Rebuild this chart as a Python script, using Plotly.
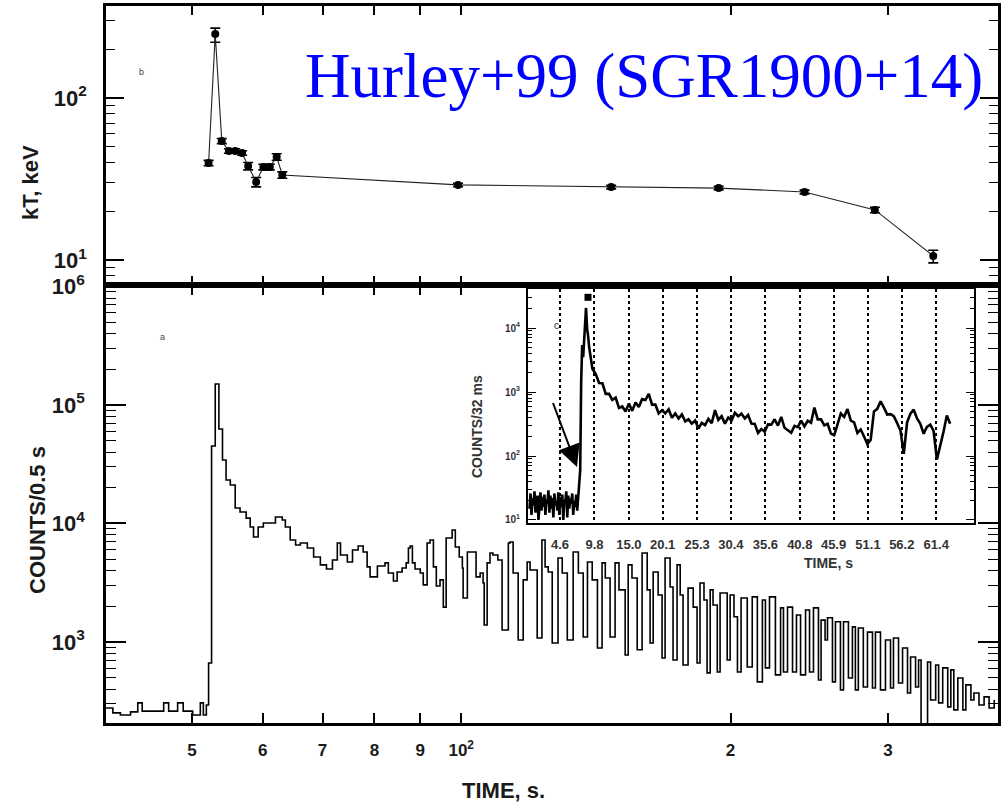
import plotly.graph_objects as go

# ---------------- data ----------------
# top panel: blackbody temperature kT (keV) vs time (s)
kt_time = [52.2, 53.1, 54.0, 55.0, 55.9, 56.9, 57.8, 59.0, 60.1, 61.1, 62.2, 63.1,
           99.2, 147.1, 194.0, 242.0, 290.0, 337.0]
kt_value = [39.7, 248.0, 54.3, 47.1, 47.1, 45.8, 38.0, 30.3, 37.5, 37.5, 43.3, 33.5,
            29.1, 28.2, 27.8, 26.3, 20.4, 10.6]
kt_err_plus = [1.5, 22.0, 2.0, 1.5, 1.5, 1.5, 2.0, 2.0, 1.5, 1.5, 2.0, 1.5,
               0.7, 0.7, 0.7, 0.7, 0.8, 0.9]
kt_err_minus = [1.5, 27.0, 2.0, 1.5, 1.5, 1.5, 2.0, 2.0, 1.5, 1.5, 2.0, 1.5,
                0.7, 0.7, 0.7, 0.7, 0.8, 1.0]

# bottom panel: light curve, counts per 0.5 s
lc_time = [40.1, 40.8, 41.6, 42.7, 43.5, 44.0, 46.5, 47.1, 48.2, 48.9,
           50.1, 51.1, 51.5, 51.9, 52.2, 52.6, 53.1, 53.6, 54.1, 54.6,
           55.2, 55.9, 56.6, 57.5, 58.1, 58.6, 59.3, 60.1, 61.2, 62.0,
           63.1, 63.6, 64.4, 65.3, 66.1, 67.3, 68.4, 69.6, 70.7, 71.8,
           72.7, 73.3, 74.6, 75.6, 76.7, 77.7, 78.5, 79.1, 80.1, 80.6,
           82.2, 82.9, 84.0, 84.8, 85.9, 86.8, 87.3, 87.7, 88.2, 88.8,
           90.0, 90.7, 91.6, 92.3, 93.1, 93.8, 94.7, 95.5, 96.2, 97.7,
           98.5, 99.5, 100.3, 100.5, 101.6, 102.9, 103.9, 105.0, 105.8, 106.1,
           106.9, 107.7, 108.5, 109.9, 111.1, 112.9, 113.4, 114.3, 115.8, 117.3,
           118.5, 119.4, 121.6, 123.1, 124.1, 125.1, 126.4, 128.3, 129.7, 131.4,
           133.4, 135.2, 136.9, 138.4, 140.1, 142.0, 143.7, 144.9, 146.7, 148.6,
           150.1, 152.5, 153.7, 155.2, 157.3, 159.3, 161.4, 162.6, 163.9, 166.0,
           167.7, 169.0, 171.2, 172.5, 174.3, 175.7, 177.0, 179.3, 181.7, 183.5,
           184.9, 186.8, 188.3, 189.8, 191.2, 193.3, 194.7, 198.3, 199.8, 201.8,
           203.6, 205.5, 208.8, 211.5, 214.3, 217.1, 218.8, 221.1, 224.5, 227.5,
           229.2, 231.6, 234.6, 237.0, 239.5, 242.6, 245.1, 247.6, 250.8, 252.5,
           255.1, 256.7, 260.0, 262.0, 265.4, 267.5, 270.9, 273.7, 275.8, 277.9,
           281.5, 284.5, 288.2, 290.4, 294.2, 298.0, 301.9, 304.2, 308.2, 311.4,
           315.4, 317.9, 322.0, 324.5, 326.6, 332.1, 334.7, 339.1, 341.7, 345.3,
           349.8, 352.6, 355.3, 359.0, 363.7, 366.5, 371.3, 374.2, 379.1, 384.1,
           389.1, 394.2]
lc_counts = [277, 252, 242, 257, 306, 261, 306, 261, 306, 261,
             242, 306, 242, 294, 665, 45100, 150400, 62700, 34300, 23300,
             21100, 13500, 12500, 11100, 9330, 7690, 9330, 10100, 10100, 11350,
             10700, 9330, 7260, 6590, 6840, 6210, 5210, 4470, 4130, 4920,
             6840, 5420, 4730, 5970, 6460, 5750, 4300, 3540, 3540, 4380,
             4650, 3820, 3270, 3900, 4210, 4650, 6210, 6460, 4650, 4130,
             3820, 3030, 6840, 7260, 4300, 2970, 3340, 1970, 7550, 8810,
             6340, 5210, 4210, 2350, 5750, 5750, 3540, 3820, 3150, 1390,
             4650, 5640, 5420, 4920, 1260, 6840, 6980, 3820, 1040, 3340,
             4730, 4050, 1080, 7260, 4300, 3900, 980, 5110, 3820, 1040,
             5750, 3820, 1100, 4730, 3340, 890, 4650, 3470, 1100, 4650,
             2750, 777, 4470, 3470, 860, 5640, 2750, 980, 3900, 2490,
             733, 5110, 2910, 705, 4470, 2490, 640, 2850, 1970, 665,
             3150, 2260, 548, 2750, 2050, 558, 2590, 705, 2490, 1630,
             558, 2350, 615, 2400, 460, 2260, 604, 2400, 527, 1940,
             558, 1970, 558, 1690, 527, 1860, 558, 1940, 478, 1530,
             1040, 1600, 460, 1480, 394, 1480, 497, 1340, 394, 1310,
             417, 1210, 409, 1210, 394, 1040, 409, 1080, 451, 890,
             371, 747, 417, 705, 200, 678, 324, 640, 306, 604,
             283, 581, 267, 497, 267, 434, 324, 371, 294, 344,
             277, 324]

# inset: counts per 32 ms vs time (s)
inset_time = [0.0, 0.15, 0.3, 0.45, 0.6, 0.75, 0.9, 1.05, 1.2, 1.35,
              1.5, 1.65, 1.8, 1.95, 2.1, 2.25, 2.4, 2.55, 2.7, 2.85,
              3.0, 3.15, 3.3, 3.45, 3.6, 3.75, 3.9, 4.05, 4.2, 4.35,
              4.5, 4.65, 4.8, 4.95, 5.1, 5.25, 5.4, 5.55, 5.7, 5.85,
              6.0, 6.15, 6.3, 6.45, 6.6, 6.75, 6.9, 7.05, 7.2,
              7.35, 7.5, 7.65, 7.8, 7.95, 8.1, 8.3, 8.53, 8.7, 8.83,
              9.0, 9.5, 10.0, 10.5, 11.0, 11.5, 12.0, 12.5, 13.0, 13.5,
              14.0, 14.5, 15.0, 15.5, 16.0, 16.5, 17.0, 17.5, 18.0, 18.5,
              19.0, 19.5, 20.0, 20.5, 21.0, 21.5, 22.0, 22.5, 23.0, 23.5,
              24.0, 24.5, 25.0, 25.5, 26.0, 26.5, 27.0, 27.5, 28.0, 28.5,
              29.0, 29.5, 30.0, 30.5, 31.0, 31.5, 32.0, 32.5, 33.0, 33.5,
              34.0, 34.5, 35.0, 35.5, 36.0, 36.5, 37.0, 37.5, 38.0, 38.5,
              39.0, 39.5, 40.0, 40.5, 41.0, 41.5, 42.0, 42.5, 43.0, 43.5,
              44.0, 44.5, 45.0, 45.5, 46.0, 46.5, 47.0, 47.5, 48.0, 48.5,
              49.0, 49.5, 50.0, 50.5, 51.0, 51.5, 52.0, 52.5, 53.0, 53.5,
              54.0, 54.5, 55.0, 55.5, 56.0, 56.5, 57.0, 57.5, 58.0, 58.5,
              59.0, 59.5, 60.0, 60.5, 61.0, 61.5, 62.0, 62.5, 63.0, 63.5]
inset_counts = [15, 26, 12, 22, 17, 28, 13, 20, 24, 10,
                19, 27, 14, 23, 16, 25, 12, 21, 18, 29,
                13, 24, 15, 22, 11, 26, 17, 20, 14, 27,
                12, 23, 16, 25, 10, 21, 19, 28, 11, 24,
                15, 22, 18, 26, 12, 20, 16, 25, 14,
                22, 47, 60, 1500, 5400, 3500, 9000, 20600, 9500, 7800,
                5040, 2290, 1910, 1380, 1375, 935, 936, 752, 818, 563,
                594, 497, 660, 507, 686, 583, 773, 748, 933, 635,
                638, 463, 520, 465, 538, 396, 463, 386, 446, 347,
                374, 320, 358, 268, 329, 304, 380, 325, 520, 367,
                420, 321, 398, 359, 473, 418, 458, 385, 437, 321,
                318, 230, 264, 240, 312, 310, 375, 299, 408, 276,
                253, 231, 296, 282, 358, 290, 355, 331, 572, 374,
                374, 301, 319, 224, 212, 304, 462, 409, 541, 357,
                336, 229, 260, 202, 154, 178, 499, 545, 717, 572,
                445, 451, 418, 325, 250, 108, 336, 458, 530, 386,
                319, 223, 286, 310, 246, 88, 143, 239, 429, 320]
inset_marker_time = [8.83]
inset_marker_counts = [30200]
inset_ticks = [4.6, 9.8, 15.0, 20.1, 25.3, 30.4, 35.6, 40.8, 45.9, 51.1, 56.2, 61.4]

# shared time axis ticks
time_ticks = [50, 60, 70, 80, 90, 100, 200, 300]
time_ticktext = ["5", "6", "7", "8", "9", "10<sup>2</sup>", "2", "3"]

# ---------------- figure ----------------
W, H = 1005, 805
def px(x):
    return x / W
def py(y):
    return 1 - y / H

FONT = "Liberation Sans"
INK = "#1a1a1a"

fig = go.Figure()

fig.add_trace(go.Scatter(
    x=kt_time, y=kt_value, mode="lines+markers",
    line=dict(color="#222", width=1.1),
    marker=dict(symbol="circle", size=8, color="black"),
    error_y=dict(type="data", array=kt_err_plus, arrayminus=kt_err_minus,
                 color="black", thickness=1.6, width=5),
    xaxis="x", yaxis="y"))

fig.add_trace(go.Scatter(
    x=lc_time, y=lc_counts, mode="lines", line_shape="hv",
    line=dict(color="black", width=1.6),
    xaxis="x2", yaxis="y2"))

fig.add_trace(go.Scatter(
    x=inset_time, y=inset_counts, mode="lines",
    line=dict(color="black", width=2.6),
    xaxis="x3", yaxis="y3"))

fig.add_trace(go.Scatter(
    x=inset_marker_time, y=inset_marker_counts, mode="markers",
    marker=dict(symbol="square", size=7, color="black"),
    xaxis="x3", yaxis="y3"))

def minor_vals(decades):
    return [m * 10 ** e for e in decades for m in range(2, 10)]

xdom = [px(106), px(998)]
xrange_log = [1.603, 2.600]

common_axis = dict(showline=True, linecolor="black", linewidth=2.5, mirror="allticks",
                   showgrid=False, zeroline=False, ticks="inside", tickcolor="black",
                   automargin=False)

fig.update_layout(
    width=W, height=H, margin=dict(l=0, r=0, t=0, b=0, pad=0, autoexpand=False),
    paper_bgcolor="white", plot_bgcolor="white", showlegend=False,
    xaxis=dict(domain=xdom, type="log", range=xrange_log, anchor="y",
               tickvals=time_ticks, showticklabels=False, ticklen=9, tickwidth=1.5,
               **common_axis),
    yaxis=dict(domain=[py(285), py(6)], type="log", range=[0.846, 2.568], anchor="x",
               tickvals=[10, 100], ticktext=["10<sup>1</sup>", "10<sup>2</sup>"],
               ticklen=18, tickwidth=1.5, ticklabelstandoff=12,
               tickfont=dict(family=FONT, size=22, color=INK, weight="bold"),
               minor=dict(tickvals=[8, 9] + minor_vals([1]) + [200, 300],
                          ticklen=9, tickwidth=1.2, tickcolor="black", ticks="inside"),
               **common_axis),
    xaxis2=dict(domain=xdom, type="log", range=xrange_log, anchor="y2",
                tickvals=time_ticks, ticktext=time_ticktext, ticklen=10, tickwidth=1.5,
                ticklabelstandoff=10,
                tickfont=dict(family=FONT, size=17, color=INK, weight="bold"),
                **common_axis),
    yaxis2=dict(domain=[py(723), py(285)], type="log", range=[2.316, 6.013], anchor="x2",
                tickvals=[1e3, 1e4, 1e5, 1e6],
                ticktext=["10<sup>3</sup>", "10<sup>4</sup>", "10<sup>5</sup>", "10<sup>6</sup>"],
                ticklen=20, tickwidth=1.5, ticklabelstandoff=14,
                tickfont=dict(family=FONT, size=22, color=INK, weight="bold"),
                minor=dict(tickvals=[300, 400, 500, 600, 700, 800, 900] + minor_vals([3, 4, 5]),
                           ticklen=10, tickwidth=1.2, tickcolor="black", ticks="inside"),
                **common_axis),
    xaxis3=dict(domain=[px(528), px(974)], range=[-0.23, 67.1], anchor="y3",
                tickvals=inset_ticks, ticktext=["%.1f" % v for v in inset_ticks],
                showline=True, linecolor="black", linewidth=2, mirror=True,
                showgrid=True, griddash="dot", gridcolor="black", gridwidth=1.6,
                zeroline=False, ticks="", ticklabelstandoff=8, automargin=False,
                tickfont=dict(family=FONT, size=13, color="#333", weight="bold")),
    yaxis3=dict(domain=[py(523), py(289)], type="log", range=[0.953, 4.61], anchor="x3",
                tickvals=[10, 100, 1000, 10000],
                ticktext=["10<sup>1</sup>", "10<sup>2</sup>", "10<sup>3</sup>", "10<sup>4</sup>"],
                showline=True, linecolor="black", linewidth=2, mirror="allticks",
                showgrid=False, zeroline=False, ticks="inside", ticklen=8, tickwidth=1.2,
                tickcolor="black", ticklabelstandoff=4, automargin=False,
                tickfont=dict(family=FONT, size=10, color="#333", weight="bold"),
                minor=dict(tickvals=minor_vals([1, 2, 3]) + [20000, 30000, 40000],
                           ticklen=4, tickwidth=1, tickcolor="black", ticks="inside")),
)

annots = [
    dict(text="Hurley+99 (SGR1900+14)", x=px(644), y=py(76),
         font=dict(family="Liberation Serif", size=63, color="#0000ff")),
    dict(text="kT, keV", x=px(30), y=py(183), textangle=-90,
         font=dict(family=FONT, size=22, color=INK, weight="bold")),
    dict(text="COUNTS/0.5 s", x=px(37), y=py(520), textangle=-90,
         font=dict(family=FONT, size=22, color=INK, weight="bold")),
    dict(text="TIME, s.", x=px(503), y=py(790),
         font=dict(family=FONT, size=22, color=INK, weight="bold")),
    dict(text="TIME, s", x=px(828), y=py(563),
         font=dict(family=FONT, size=14, color="#333", weight="bold")),
    dict(text="COUNTS/32 ms", x=px(477), y=py(427), textangle=-90,
         font=dict(family=FONT, size=14, color="#333", weight="bold")),
    dict(text="b", x=px(141), y=py(72), font=dict(family=FONT, size=9, color="#444")),
    dict(text="a", x=px(162), y=py(337), font=dict(family=FONT, size=9, color="#444")),
    dict(text="c", x=px(556), y=py(325), font=dict(family=FONT, size=10, color="#333")),
]
for a in annots:
    fig.add_annotation(xref="paper", yref="paper", showarrow=False,
                       xanchor="center", yanchor="middle", **a)

fig.add_annotation(xref="paper", yref="paper", x=px(577), y=py(467), text=" ",
                   showarrow=True, ax=-27, ay=-72, arrowhead=2, arrowsize=2.2,
                   arrowwidth=2, arrowcolor="black", standoff=0)

fig.write_html("out.html")
